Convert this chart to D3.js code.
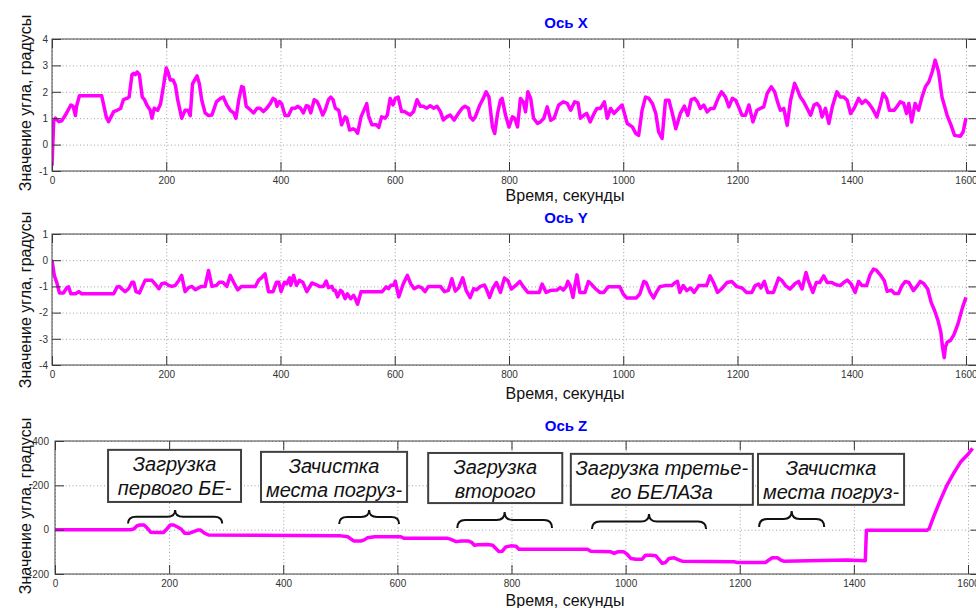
<!DOCTYPE html>
<html>
<head>
<meta charset="utf-8">
<script src="https://cdnjs.cloudflare.com/ajax/libs/d3/7.8.5/d3.min.js"></script>
<style>
	body { margin: 0; background: #fff; }
	svg { display: block; font-family: Arial, "Liberation Sans", sans-serif; }
	.grid line { stroke: #a0a0a0; stroke-dasharray: 1,2.5; }
	.grid path, .ax path { display: none; }
	.ax line { stroke: #333; }
	.ax text { fill: #333; }
	.frame { fill: none; stroke: #444; stroke-width: 1; }
	.trace { fill: none; stroke: #ff00ff; stroke-width: 3.5; stroke-linejoin: round; }
	.title { fill: #0000ff; font-weight: bold; font-size: 15px; }
	.lbl { fill: #111; font-size: 16px; }
	.note rect { fill: #fff; stroke: #404040; stroke-width: 2; }
	.note text { font-style: italic; font-size: 20px; fill: #111; }
	.brace { fill: none; stroke: #111; stroke-width: 2; }
</style>
</head>
<body>
<svg id="chart" width="976" height="608"></svg>
<script>
// time axis, seconds (the axes run a little past 1600, their right edge is off the picture)
var timeTicks = [0, 200, 400, 600, 800, 1000, 1200, 1400, 1600];
var timeEnd = 1620;
var ticksX = [-1, 0, 1, 2, 3, 4];
var ticksY = [-4, -3, -2, -1, 0, 1];
var ticksZ = [-200, 0, 200, 400];

// [seconds, degrees]
var seriesX = [[0,-0.8],[3,0.9],[6,1.0],[12,0.87],[17,0.9],[23,1.1],[33,1.5],[37,1.45],[41,1.1],[43,1.45],[48,1.85],[87,1.85],[95,1.05],[99,0.87],[108,1.25],[114,1.3],[120,1.37],[125,1.7],[131,1.75],[135,1.8],[140,2.65],[143,2.7],[146,2.65],[149,2.75],[153,2.65],[158,1.8],[162,1.7],[166,1.5],[172,1.3],[175,1.0],[179,1.38],[185,1.3],[190,1.55],[195,2.2],[200,2.9],[203,2.75],[207,2.45],[212,2.45],[216,2.25],[220,1.7],[227,1.0],[233,1.3],[238,1.3],[242,1.1],[246,2.3],[251,2.5],[254,2.6],[258,2.3],[262,1.7],[268,1.2],[274,1.1],[280,1.12],[288,1.63],[295,1.75],[300,1.8],[306,1.5],[312,1.3],[318,1.2],[322,1.0],[327,1.7],[332,2.2],[335,2.17],[340,1.45],[344,1.38],[353,1.2],[359,1.38],[364,1.38],[370,1.25],[376,1.38],[382,1.55],[387,1.75],[391,1.7],[394,1.45],[398,1.63],[402,1.55],[408,1.1],[414,1.1],[420,1.38],[426,1.38],[430,1.45],[435,1.38],[440,1.2],[445,1.47],[449,1.45],[453,1.2],[459,1.7],[464,1.63],[468,1.45],[474,1.12],[478,1.3],[484,1.7],[488,1.8],[492,1.7],[496,1.38],[502,1.3],[507,0.75],[513,1.05],[516,1.0],[521,0.55],[527,0.6],[531,0.55],[535,0.43],[541,1.05],[545,1.25],[551,1.55],[554,1.1],[560,0.75],[568,0.75],[572,0.65],[577,1.05],[583,1.0],[587,1.12],[592,1.75],[597,1.5],[601,1.75],[606,1.8],[612,1.25],[617,1.25],[621,1.2],[627,1.12],[633,1.25],[639,1.7],[645,1.45],[650,1.45],[656,1.38],[662,1.47],[668,1.38],[674,1.45],[680,1.25],[685,0.93],[691,1.05],[697,1.12],[704,0.93],[712,1.2],[718,1.38],[723,1.45],[729,1.38],[732,1.05],[737,0.93],[741,1.05],[749,1.5],[755,1.75],[760,2.0],[765,1.8],[771,0.67],[775,0.42],[780,1.18],[785,1.68],[788,1.75],[794,1.11],[800,0.67],[806,1.05],[810,1.0],[815,0.67],[820,1.75],[825,1.62],[829,1.24],[833,2.0],[838,1.75],[843,1.0],[850,0.8],[855,0.86],[861,1.0],[867,1.43],[873,0.92],[879,1.0],[887,1.5],[895,1.62],[902,1.56],[908,1.3],[915,1.62],[921,1.58],[925,1.0],[931,1.11],[936,1.18],[942,0.86],[949,1.18],[954,1.37],[960,1.37],[967,1.62],[972,1.0],[978,1.37],[984,1.18],[989,1.3],[998,1.5],[1007,0.8],[1016,0.67],[1022,0.42],[1027,0.35],[1033,1.3],[1039,1.8],[1045,1.75],[1051,1.56],[1057,1.18],[1062,0.48],[1068,0.23],[1074,1.68],[1080,1.68],[1086,1.18],[1092,0.6],[1100,1.18],[1107,1.46],[1113,1.11],[1119,1.7],[1125,1.75],[1130,1.62],[1135,1.37],[1141,1.5],[1147,1.24],[1153,1.37],[1159,1.37],[1166,1.75],[1172,2.0],[1179,1.8],[1185,1.43],[1191,1.75],[1197,1.68],[1202,1.43],[1208,1.11],[1214,1.11],[1220,1.5],[1227,0.86],[1234,1.3],[1240,1.37],[1246,1.43],[1252,1.94],[1259,2.19],[1265,2.0],[1271,1.56],[1275,1.3],[1281,1.37],[1287,0.73],[1293,1.68],[1300,2.32],[1304,2.13],[1310,1.8],[1316,1.62],[1322,1.37],[1328,1.11],[1334,1.5],[1339,1.56],[1344,1.43],[1348,1.05],[1354,1.37],[1360,0.8],[1366,1.43],[1374,2.0],[1380,1.8],[1386,1.8],[1392,1.68],[1398,1.18],[1404,1.37],[1412,1.75],[1418,1.56],[1424,1.68],[1430,1.56],[1436,1.37],[1444,1.05],[1450,1.5],[1455,1.94],[1461,1.75],[1466,1.3],[1474,1.3],[1479,1.43],[1485,1.62],[1491,1.56],[1496,1.18],[1500,1.56],[1505,0.86],[1511,1.56],[1517,1.3],[1523,1.8],[1529,2.19],[1535,2.38],[1541,2.76],[1546,3.2],[1552,2.76],[1558,1.8],[1567,1.11],[1574,0.73],[1580,0.35],[1590,0.32],[1595,0.48],[1600,1.0]];

var seriesY = [[0,0],[4,-0.58],[9,-0.9],[13,-1.25],[20,-1.25],[26,-1.05],[29,-1.02],[33,-1.28],[41,-1.28],[47,-1.2],[52,-1.28],[108,-1.28],[114,-1.02],[118,-1.0],[122,-1.09],[128,-1.2],[134,-1.09],[140,-0.84],[143,-0.84],[147,-1.2],[153,-1.25],[159,-0.96],[163,-0.77],[175,-0.77],[181,-0.92],[187,-1.09],[192,-0.9],[198,-0.87],[204,-0.96],[210,-1.0],[216,-0.96],[222,-0.77],[227,-0.58],[233,-1.2],[239,-1.05],[245,-1.0],[251,-1.13],[257,-1.05],[262,-1.0],[268,-1.0],[274,-0.39],[280,-1.0],[288,-0.96],[293,-0.84],[299,-0.84],[306,-1.0],[312,-0.58],[318,-0.84],[325,-1.13],[332,-1.0],[356,-1.0],[362,-0.75],[367,-0.67],[373,-0.52],[379,-1.2],[387,-1.2],[393,-0.84],[397,-0.84],[401,-1.2],[407,-0.84],[411,-0.9],[416,-0.67],[418,-0.96],[423,-0.58],[428,-0.96],[433,-0.77],[439,-0.84],[446,-1.2],[455,-0.87],[461,-0.92],[468,-1.0],[475,-1.0],[480,-0.8],[484,-1.05],[490,-1.0],[493,-1.15],[496,-1.15],[500,-1.4],[505,-1.15],[508,-1.2],[513,-1.47],[517,-1.28],[523,-1.47],[528,-1.34],[531,-1.47],[535,-1.68],[541,-1.2],[578,-1.2],[585,-1.02],[589,-1.09],[593,-0.96],[598,-0.96],[601,-0.8],[607,-1.4],[612,-1.09],[615,-0.9],[622,-0.58],[628,-0.9],[634,-1.09],[641,-1.0],[647,-1.05],[653,-1.2],[659,-1.0],[680,-1.0],[687,-1.2],[694,-1.15],[700,-0.71],[706,-1.18],[712,-1.05],[719,-0.67],[725,-1.15],[732,-1.43],[738,-1.09],[743,-1.13],[750,-1.0],[757,-0.95],[761,-1.13],[766,-1.42],[772,-1.06],[778,-0.85],[785,-1.23],[792,-0.68],[798,-0.78],[804,-1.1],[813,-0.94],[819,-0.81],[825,-1.01],[833,-1.23],[853,-1.23],[858,-0.91],[865,-1.23],[872,-1.16],[884,-1.14],[890,-1.04],[895,-1.14],[900,-1.01],[903,-0.81],[907,-0.97],[912,-1.42],[915,-1.01],[919,-0.56],[924,-1.23],[933,-1.23],[939,-0.81],[944,-0.91],[950,-1.06],[959,-1.23],[966,-1.23],[974,-1.01],[994,-1.01],[1000,-1.29],[1006,-1.44],[1023,-1.44],[1029,-1.29],[1036,-0.81],[1040,-0.85],[1047,-1.23],[1053,-1.44],[1058,-1.23],[1064,-1.01],[1073,-0.97],[1085,-0.97],[1091,-0.85],[1095,-0.81],[1099,-1.23],[1105,-0.97],[1111,-1.16],[1118,-1.06],[1124,-1.23],[1132,-0.97],[1146,-0.97],[1152,-0.6],[1158,-0.85],[1165,-1.23],[1172,-1.1],[1182,-0.85],[1190,-0.81],[1199,-1.01],[1208,-1.06],[1216,-1.23],[1225,-1.23],[1231,-0.97],[1237,-0.91],[1241,-1.06],[1247,-0.81],[1253,-1.23],[1263,-1.23],[1272,-0.68],[1278,-0.78],[1284,-0.97],[1292,-1.1],[1301,-0.89],[1307,-0.81],[1313,-1.1],[1320,-0.47],[1324,-0.78],[1332,-1.23],[1338,-0.85],[1344,-0.85],[1351,-0.6],[1357,-0.85],[1365,-0.85],[1373,-0.94],[1380,-0.97],[1386,-0.85],[1392,-0.76],[1399,-0.91],[1406,-1.23],[1412,-0.81],[1418,-0.97],[1426,-0.97],[1432,-0.56],[1438,-0.34],[1443,-0.38],[1450,-0.56],[1457,-0.78],[1462,-1.19],[1469,-1.14],[1475,-1.27],[1482,-1.27],[1488,-0.97],[1494,-0.81],[1500,-0.85],[1508,-1.16],[1515,-0.97],[1520,-0.81],[1526,-0.89],[1533,-1.1],[1539,-1.61],[1545,-1.92],[1551,-2.3],[1556,-2.75],[1559,-3.32],[1562,-3.72],[1564,-3.32],[1567,-3.13],[1573,-3.06],[1579,-2.84],[1586,-2.43],[1594,-1.8],[1600,-1.42]];

var seriesZ = [[0,0],[132,0],[138,3],[144,18],[149,21],[156,21],[162,6],[168,-12],[176,-13],[190,-13],[196,3],[202,21],[208,21],[214,13],[221,3],[227,-16],[236,-16],[243,-9],[250,-2],[255,-2],[262,-16],[269,-24],[490,-27],[501,-28],[513,-32],[519,-43],[524,-51],[536,-51],[542,-46],[548,-36],[560,-32],[606,-32],[612,-39],[688,-39],[694,-44],[703,-54],[712,-51],[724,-51],[730,-57],[735,-70],[741,-68],[758,-67],[767,-70],[773,-86],[778,-99],[784,-97],[790,-78],[799,-73],[808,-75],[813,-88],[933,-88],[939,-97],[974,-100],[980,-107],[986,-100],[997,-100],[1003,-112],[1009,-130],[1018,-133],[1029,-133],[1035,-115],[1044,-115],[1053,-118],[1058,-133],[1064,-152],[1070,-148],[1076,-130],[1085,-127],[1094,-137],[1099,-142],[1190,-145],[1196,-148],[1245,-148],[1251,-137],[1257,-127],[1266,-127],[1272,-137],[1277,-142],[1388,-137],[1420,-140],[1422,-3],[1528,-3],[1532,5],[1540,60],[1551,130],[1563,200],[1575,255],[1587,305],[1600,340],[1608,367]];

// annotations on the Z plot
var noteText = [
	['Загрузка', 'первого БЕ-'],
	['Зачистка', 'места погруз-'],
	['Загрузка', 'второго'],
	['Загрузка третье-', 'го БЕЛАЗа'],
	['Зачистка', 'места погруз-']
];
// box: seconds from, seconds to, degrees top, degrees bottom
var noteBox = [[93,326,360,125],[361,617,351,125],[654,889,346,120],[904,1223,342,112],[1232,1488,342,112]];
// brace: seconds from, seconds to, degrees at ends, degrees at tip
var braceSpan = [[128,293,28,89],[498,603,26,89],[705,871,8,80],[941,1141,3,71],[1234,1348,12,84]];

var svg = d3.select('#chart');
var yCaption = 'Значение угла, градусы';
var xCaption = 'Время, секунды';

var panels = [
	{ name: 'Ось X', data: seriesX, ticks: ticksX, left: 52, right: 977.4, top: 39, bottom: 171, pad: 4, titleY: 28, xlabY: 201, ylabY: 103 },
	{ name: 'Ось Y', data: seriesY, ticks: ticksY, left: 52, right: 977.4, top: 234, bottom: 365, pad: 4, titleY: 223, xlabY: 399, ylabY: 300 },
	{ name: 'Ось Z', data: seriesZ, ticks: ticksZ, left: 55, right: 979.4, top: 441, bottom: 574, pad: 6, titleY: 431, xlabY: 606, ylabY: 506 }
];

function plainNum(d) { return String(d); }

function drawPanel(p, i) {
	var g = svg.append('g'),
		h = p.bottom - p.top,
		w = p.right - p.left;

	var x = d3.scaleLinear().domain([0, timeEnd]).range([p.left, p.right]);
	var y = d3.scaleLinear().domain([p.ticks[0], p.ticks[p.ticks.length - 1]]).range([p.bottom, p.top]);

	// dotted grid
	g.append('g').attr('class', 'grid')
		.attr('transform', 'translate(0,' + p.bottom + ')')
		.call(d3.axisBottom(x).tickValues(timeTicks).tickSize(-h).tickFormat(''));
	g.append('g').attr('class', 'grid')
		.attr('transform', 'translate(' + p.left + ',0)')
		.call(d3.axisLeft(y).tickValues(p.ticks).tickSize(-w).tickFormat(''));

	g.append('clipPath').attr('id', 'clip' + i)
		.append('rect')
		.attr('x', p.left).attr('y', p.top)
		.attr('width', w).attr('height', h);

	var line = d3.line()
		.x(function (d) { return x(d[0]); })
		.y(function (d) { return y(d[1]); });

	g.append('path')
		.datum(p.data)
		.attr('class', 'trace')
		.attr('clip-path', 'url(#clip' + i + ')')
		.attr('d', line);

	// ticks inside on all four sides
	var axes = [
		g.append('g').attr('transform', 'translate(0,' + p.bottom + ')')
			.call(d3.axisBottom(x).tickValues(timeTicks).tickSize(-9).tickPadding(6).tickFormat(plainNum)),
		g.append('g').attr('transform', 'translate(0,' + p.top + ')')
			.call(d3.axisTop(x).tickValues(timeTicks).tickSize(-9).tickFormat('')),
		g.append('g').attr('transform', 'translate(' + p.left + ',0)')
			.call(d3.axisLeft(y).tickValues(p.ticks).tickSize(-9).tickPadding(p.pad).tickFormat(plainNum)),
		g.append('g').attr('transform', 'translate(' + p.right + ',0)')
			.call(d3.axisRight(y).tickValues(p.ticks).tickSize(-9).tickFormat(''))
	];
	axes.forEach(function (a) {
		a.attr('class', 'ax').attr('font-family', null).attr('font-size', 10);
	});

	g.append('rect').attr('class', 'frame')
		.attr('x', p.left).attr('y', p.top)
		.attr('width', w).attr('height', h);

	g.append('text').attr('class', 'title')
		.attr('x', 566).attr('y', p.titleY)
		.attr('text-anchor', 'middle')
		.text(p.name);

	g.append('text').attr('class', 'lbl')
		.attr('x', 565).attr('y', p.xlabY)
		.attr('text-anchor', 'middle')
		.text(xCaption);

	g.append('text').attr('class', 'lbl')
		.attr('transform', 'translate(31,' + p.ylabY + ') rotate(-90)')
		.attr('text-anchor', 'middle')
		.text(yCaption);

	return { x: x, y: y, g: g };
}

var drawn = panels.map(drawPanel);

/* Annotations over the Z plot */
var zx = drawn[2].x, zy = drawn[2].y, zg = drawn[2].g;

zg.selectAll('.brace')
	.data(braceSpan)
	.enter().append('path')
	.attr('class', 'brace')
	.attr('d', function (d) {
		var x0 = zx(d[0]), x1 = zx(d[1]), xc = (x0 + x1) / 2,
			yb = zy(d[2]), yt = zy(d[3]), ym = (yb + yt) / 2,
			r = Math.min(8, (x1 - x0) / 4);
		return 'M' + x0 + ',' + yb +
			'Q' + x0 + ',' + ym + ' ' + (x0 + r) + ',' + ym +
			'L' + (xc - r) + ',' + ym +
			'Q' + xc + ',' + ym + ' ' + xc + ',' + yt +
			'Q' + xc + ',' + ym + ' ' + (xc + r) + ',' + ym +
			'L' + (x1 - r) + ',' + ym +
			'Q' + x1 + ',' + ym + ' ' + x1 + ',' + yb;
	});

var notes = zg.selectAll('.note')
	.data(noteBox)
	.enter().append('g')
	.attr('class', 'note');

notes.append('rect')
	.attr('x', function (d) { return zx(d[0]); })
	.attr('y', function (d) { return zy(d[2]); })
	.attr('width', function (d) { return zx(d[1]) - zx(d[0]); })
	.attr('height', function (d) { return zy(d[3]) - zy(d[2]); });

notes.each(function (d, i) {
	var cx = (zx(d[0]) + zx(d[1])) / 2,
		top = zy(d[2]);
	d3.select(this).selectAll('text')
		.data(noteText[i])
		.enter().append('text')
		.attr('x', cx)
		.attr('y', function (t, k) { return top + 21.5 + k * 23.5; })
		.attr('text-anchor', 'middle')
		.text(function (t) { return t; });
});
</script>
</body>
</html>
